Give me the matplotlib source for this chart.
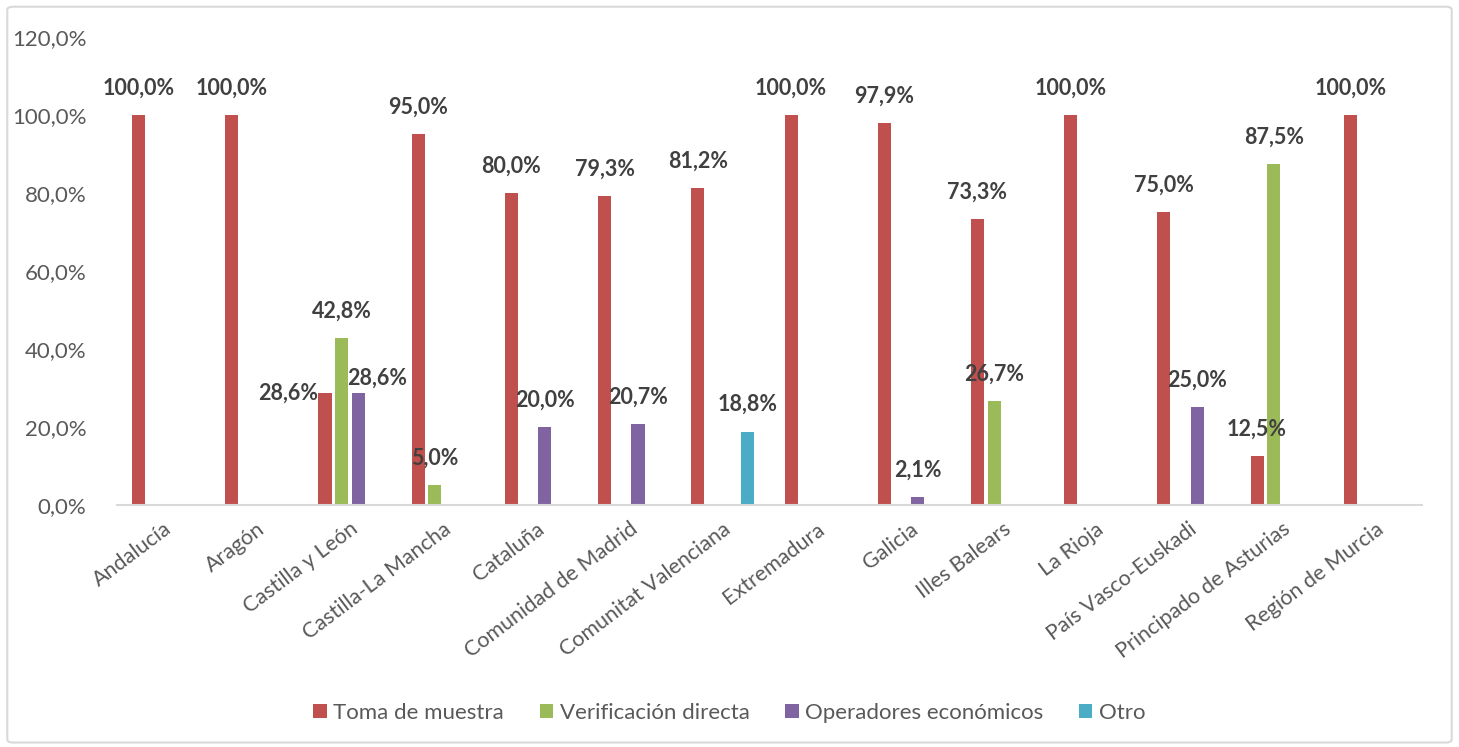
import numpy as np
import matplotlib
matplotlib.use("Agg")
import matplotlib.pyplot as plt
from matplotlib.patches import FancyBboxPatch

plt.rcParams['font.family'] = ['Lato', 'DejaVu Sans']

regiones = ["Andalucía", "Aragón", "Castilla y León", "Castilla-La Mancha", "Cataluña",
            "Comunidad de Madrid", "Comunitat Valenciana", "Extremadura", "Galicia",
            "Illes Balears", "La Rioja", "País Vasco-Euskadi", "Principado de Asturias",
            "Región de Murcia"]

toma = [100.0, 100.0, 28.6, 95.0, 80.0, 79.3, 81.2, 100.0, 97.9, 73.3, 100.0, 75.0, 12.5, 100.0]
verificacion = [0, 0, 42.8, 5.0, 0, 0, 0, 0, 0, 26.7, 0, 0, 87.5, 0]
operadores = [0, 0, 28.6, 0, 20.0, 20.7, 0, 0, 2.1, 0, 0, 25.0, 0, 0]
otro = [0, 0, 0, 0, 0, 0, 18.8, 0, 0, 0, 0, 0, 0, 0]

series = [("Toma de muestra", toma, "#C0504D"),
          ("Verificación directa", verificacion, "#9BBB59"),
          ("Operadores económicos", operadores, "#8064A2"),
          ("Otro", otro, "#4BACC6")]

# label offsets in pixels (dx, dy) where Excel moved them
ajustes = {(0, 2): (-37, 0), (2, 2): (19, 15)}

fig = plt.figure(figsize=(14.59, 7.47), dpi=100)
ax = fig.add_axes([0.0802, 0.324, 0.8944, 0.6265])

x = np.arange(len(regiones))
paso = 0.179
ancho = 0.14
txt = "#404040"

for i, (nombre, vals, color) in enumerate(series):
    pos = x + (i - 1.5) * paso
    ax.bar(pos, vals, width=ancho, color=color, label=nombre, linewidth=0)
    for j, v in enumerate(vals):
        if v == 0:
            continue
        dx, dy = ajustes.get((i, j), (0, 27))
        ax.annotate(f"{v:.1f}%".replace(".", ","), (pos[j], v),
                    xytext=(dx, dy), textcoords="offset pixels",
                    ha="center", va="center", fontsize=15.5,
                    fontweight="bold", color=txt)

ax.set_xlim(-0.5, len(regiones) - 0.5)
ax.set_ylim(0, 120)
ax.set_yticks(np.arange(0, 121, 20))
ax.set_yticklabels([f"{t:.1f}%".replace(".", ",") for t in np.arange(0, 121, 20)],
                   fontsize=16, color="#595959")
ax.set_xticks(x)
ax.set_xticklabels(regiones, rotation=37, ha="right", rotation_mode="anchor",
                   fontsize=15.5, color="#595959")
ax.tick_params(axis="both", length=0)
ax.tick_params(axis="y", pad=22)
ax.tick_params(axis="x", pad=10)
for s in ["top", "right", "left"]:
    ax.spines[s].set_visible(False)
ax.spines["bottom"].set_color("#D9D9D9")
ax.spines["bottom"].set_linewidth(1.5)

fig.legend(loc="center", bbox_to_anchor=(0.5, 1 - 713 / 747), ncol=4,
           frameon=False, fontsize=16, handlelength=0.6, handleheight=0.6,
           handletextpad=0.3, columnspacing=1.6, labelcolor="#595959")

borde = FancyBboxPatch((0.005, 0.006), 0.99, 0.985, boxstyle="round,pad=0,rounding_size=0.004",
                       transform=fig.transFigure, fill=False, edgecolor="#D9D9D9", linewidth=1.5)
fig.patches.append(borde)

fig.savefig("out.png", dpi=100, facecolor="white")
